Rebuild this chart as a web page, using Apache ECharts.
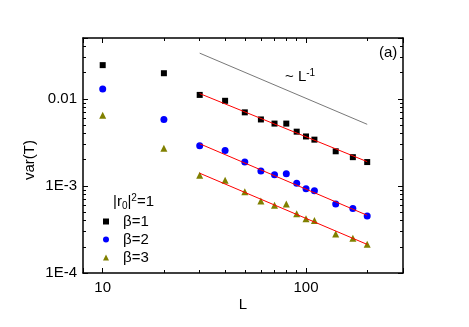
<!DOCTYPE html>
<html><head><meta charset="utf-8">
<script src="https://cdn.jsdelivr.net/npm/echarts@6/dist/echarts.min.js"></script>
<style>html,body{margin:0;padding:0;background:#fff}#c{width:469px;height:327px}</style>
</head><body><div id="c"></div>
<script>
// ---- data ----
const L = [10, 20, 30, 40, 50, 60, 70, 80, 90, 100, 110, 140, 170, 200];
const beta1 = [0.0244, 0.0197, 0.0111, 0.0095, 0.0070, 0.0058, 0.0052, 0.0052, 0.0042, 0.0037, 0.0034, 0.0025, 0.00214, 0.00188];
const beta2 = [0.0130, 0.0058, 0.0029, 0.00255, 0.00188, 0.00148, 0.00134, 0.00138, 0.00107, 0.00093, 0.00088, 0.00062, 0.00055, 0.00045];
const beta3 = [0.0065, 0.0027, 0.00133, 0.00116, 0.00086, 0.00067, 0.00060, 0.00062, 0.00048, 0.00042, 0.00040, 0.00028, 0.00025, 0.000214];
const fitL = [30, 200];
const fit1 = [0.0115, 0.0019];
const fit2 = [0.00305, 0.00046];
const fit3 = [0.0014, 0.000213];
const refL = [30, 200];
const refV = [0.0335, 0.0051];
const seriesNames = ['β=1', 'β=2', 'β=3'];
const xMajorTicks = [10, 100];
const xMinorTicks = [20, 30, 40, 50, 60, 70, 80, 90, 200];
const yMajorTicks = [1e-4, 1e-3, 1e-2];
const yMinorTicks = [2e-4, 3e-4, 4e-4, 5e-4, 6e-4, 7e-4, 8e-4, 9e-4, 2e-3, 3e-3, 4e-3, 5e-3, 6e-3, 7e-3, 8e-3, 9e-3, 0.02, 0.03, 0.04];

const FONT = '"Liberation Sans", Arial, sans-serif';
const zip = (xs, ys) => xs.map((x, i) => [x, ys[i]]);

function tickCfg(major, ticks) {
  const t = { show: true, inside: true, length: major ? 5 : 3, lineStyle: { color: '#000', width: 1 } };
  if (!major) t.customValues = ticks;
  return t;
}
function xAxis(pos, ticks, major, showLabel, showLine) {
  return {
    type: 'log', logBase: 10, min: 8, max: 300, position: pos,
    axisLine: { show: showLine, lineStyle: { color: '#000', width: 1.5 } },
    axisTick: tickCfg(major, ticks),
    axisLabel: showLabel ? { show: true, customValues: xMajorTicks, margin: 7, fontFamily: FONT, fontSize: 15, color: '#000', formatter: v => String(Math.round(v)) } : { show: false },
    splitLine: { show: false }, minorTick: { show: false }
  };
}
function yAxis(pos, ticks, major, showLabel, showLine) {
  return {
    type: 'log', logBase: 10, min: 1e-4, max: 0.05, position: pos,
    axisLine: { show: showLine, lineStyle: { color: '#000', width: 1.5 } },
    axisTick: tickCfg(major, ticks),
    axisLabel: showLabel ? { show: true, customValues: yMajorTicks, margin: 6, fontFamily: FONT, fontSize: 15, color: '#000',
      formatter: v => { const e = Math.round(Math.log10(v)); return e === -2 ? '0.01' : '1E' + e; } } : { show: false },
    splitLine: { show: false }, minorTick: { show: false }
  };
}

const chart = echarts.init(document.getElementById('c'), null, { renderer: 'canvas' });
chart.setOption({
  animation: false,
  backgroundColor: '#fff',
  grid: { left: 83, right: 66, top: 38, bottom: 54, containLabel: false, outerBoundsMode: 'none' },
  xAxis: [
    xAxis('bottom', xMajorTicks, true, true, true),
    xAxis('bottom', xMinorTicks, false, false, false),
    xAxis('top', xMajorTicks, true, false, true),
    xAxis('top', xMinorTicks, false, false, false)
  ],
  yAxis: [
    yAxis('left', yMajorTicks, true, true, true),
    yAxis('left', yMinorTicks, false, false, false),
    yAxis('right', yMajorTicks, true, false, true),
    yAxis('right', yMinorTicks, false, false, false)
  ],
  legend: {
    data: seriesNames, orient: 'vertical', left: 103, top: 214, itemWidth: 6, itemHeight: 6, itemGap: 3, padding: 0,
    itemStyle: { opacity: 1 },
    textStyle: { fontFamily: FONT, fontSize: 15, lineHeight: 15, color: '#000', padding: [0, 0, 0, 9] }
  },
  title: [
    { text: '|r{sub|0}|{sup|2}=1', left: 113, top: 193, padding: 0,
      textStyle: { fontFamily: FONT, fontSize: 15, fontWeight: 'normal', color: '#000',
        rich: { sub: { fontFamily: FONT, fontSize: 10, verticalAlign: 'bottom', padding: [8, 0, 0, 0], color: '#000' },
                sup: { fontFamily: FONT, fontSize: 10, verticalAlign: 'top', padding: [0, 0, 8, 0], color: '#000' } } } },
    { text: '~ L{sup|-1}', left: 285, top: 68, padding: 0,
      textStyle: { fontFamily: FONT, fontSize: 15, fontWeight: 'normal', color: '#000',
        rich: { sup: { fontFamily: FONT, fontSize: 10, verticalAlign: 'top', padding: [0, 0, 8, 0], color: '#000' } } } },
    { text: '(a)', left: 379, top: 45, padding: 0,
      textStyle: { fontFamily: FONT, fontSize: 15, fontWeight: 'normal', color: '#000' } }
  ],
  graphic: [
    { type: 'text', x: 30, y: 160, rotation: Math.PI / 2,
      style: { text: 'var(T)', font: '15px ' + FONT, fill: '#000', align: 'center', verticalAlign: 'middle' } },
    { type: 'text', x: 243, y: 305,
      style: { text: 'L', font: '15px ' + FONT, fill: '#000', align: 'center', verticalAlign: 'middle' } }
  ],
  series: [
    { name: seriesNames[0], type: 'scatter', symbol: 'rect', symbolSize: 6, itemStyle: { color: '#000', opacity: 1 }, data: zip(L, beta1), z: 2 },
    { name: seriesNames[1], type: 'scatter', symbol: 'circle', symbolSize: 7, itemStyle: { color: '#0000ff', opacity: 1 }, data: zip(L, beta2), z: 2 },
    { name: seriesNames[2], type: 'scatter', symbol: 'triangle', symbolSize: 7, itemStyle: { color: '#808000', opacity: 1 }, data: zip(L, beta3), z: 2 },
    { type: 'line', showSymbol: false, symbol: 'none', lineStyle: { color: '#ff0000', width: 1 }, data: zip(fitL, fit1), z: 3 },
    { type: 'line', showSymbol: false, symbol: 'none', lineStyle: { color: '#ff0000', width: 1 }, data: zip(fitL, fit2), z: 3 },
    { type: 'line', showSymbol: false, symbol: 'none', lineStyle: { color: '#ff0000', width: 1 }, data: zip(fitL, fit3), z: 3 },
    { type: 'line', showSymbol: false, symbol: 'none', lineStyle: { color: '#555', width: 0.8 }, data: zip(refL, refV), z: 3 }
  ]
});
</script></body></html>
